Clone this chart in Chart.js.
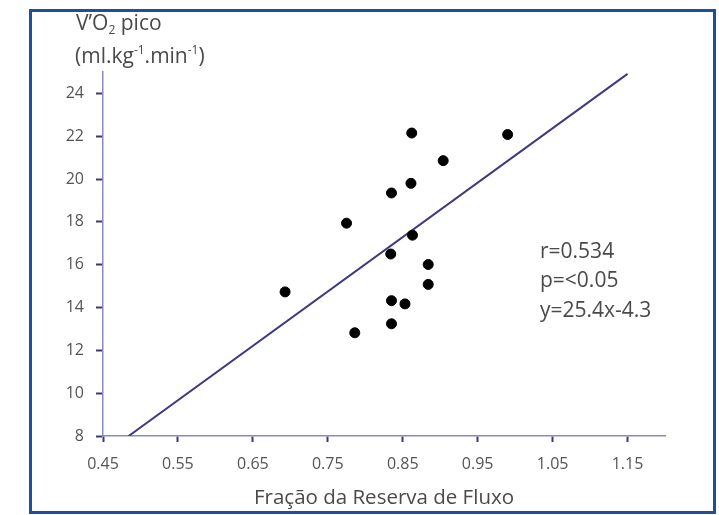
<!DOCTYPE html>
<html>
<head>
<meta charset="utf-8">
<script src="https://cdn.jsdelivr.net/npm/chart.js@4"></script>
<style>
  html, body { margin: 0; padding: 0; background: #fff; }
  #frame {
    position: absolute; left: 29px; top: 9px; width: 687px; height: 505px;
    box-sizing: border-box; border: 3px solid #1f4e9c;
  }
  #chart { position: absolute; left: 0; top: 0; }
</style>
</head>
<body>
<div id="frame"></div>
<canvas id="chart" width="719" height="515"></canvas>
<script>
// Fração da Reserva de Fluxo (x) vs V'O2 pico (y)
const ffrValues = [0.862, 0.990, 0.904, 0.861, 0.835, 0.775, 0.863, 0.834, 0.884, 0.884, 0.693, 0.835, 0.853, 0.835, 0.786];
const vo2Values = [22.15, 22.08, 20.86, 19.8, 19.35, 17.94, 17.38, 16.5, 16.01, 15.08, 14.73, 14.32, 14.17, 13.24, 12.82];

const xTicks = [0.45, 0.55, 0.65, 0.75, 0.85, 0.95, 1.05, 1.15];
const yTicks = [8, 10, 12, 14, 16, 18, 20, 22, 24];

// regressão: y = 25.4x - 4.3
const slope = 25.4;
const intercept = -4.3;
const statLines = ['r=0.534', 'p=<0.05', 'y=25.4x-4.3'];

const FONT = '"Open Sans", "Liberation Sans", sans-serif';
const TEXT = '#4a4a4a';
const AXIS = '#8a88c8';
const TICK = '#3a3878';

const points = ffrValues.map((x, i) => ({ x: x, y: vo2Values[i] }));
const lineStartX = (yTicks[0] - intercept) / slope;
const lineEndX = xTicks[xTicks.length - 1];
const regLine = [
    { x: lineStartX, y: slope * lineStartX + intercept },
    { x: lineEndX, y: slope * lineEndX + intercept }
];

// título do eixo y com subscrito/sobrescrito + estatísticas
const extraText = {
    id: 'extraText',
    afterDraw(chart) {
        const ctx = chart.ctx;
        ctx.save();
        ctx.fillStyle = TEXT;
        ctx.textBaseline = 'middle';
        ctx.textAlign = 'left';

        const parts = (list, x, y) => {
            list.forEach(p => {
                const size = p.s ? 12 : 21;
                ctx.font = size + 'px ' + FONT;
                ctx.fillText(p.t, x, y + (p.s || 0));
                x += ctx.measureText(p.t).width;
            });
        };
        parts([{ t: 'V\u2019O' }, { t: '2', s: 7 }, { t: ' pico' }], 76, 24);
        parts([{ t: '(ml.kg' }, { t: '-1', s: -6 }, { t: '.min' }, { t: '-1', s: -6 }, { t: ')' }], 75, 57);

        ctx.font = '21px ' + FONT;
        statLines.forEach((s, i) => ctx.fillText(s, 540, 252 + i * 29.5));
        ctx.restore();
    }
};

new Chart(document.getElementById('chart'), {
    type: 'scatter',
    data: {
        datasets: [
            {
                data: points,
                backgroundColor: '#000',
                borderColor: '#000',
                pointRadius: 5,
                pointHoverRadius: 5
            },
            {
                type: 'line',
                data: regLine,
                borderColor: '#3d3a80',
                borderWidth: 2,
                pointRadius: 0,
                fill: false
            }
        ]
    },
    options: {
        responsive: false,
        animation: false,
        layout: { padding: { left: 0, right: 54, top: 72, bottom: 0 } },
        plugins: { legend: { display: false }, tooltip: { enabled: false } },
        scales: {
            x: {
                type: 'linear',
                min: 0.45,
                max: 1.2,
                afterBuildTicks: s => { s.ticks = xTicks.map(v => ({ value: v })); },
                afterFit: s => { s.height = 79; },
                border: { color: AXIS, width: 1.5 },
                grid: { drawOnChartArea: false, tickLength: 6, tickColor: TICK, tickWidth: 2 },
                ticks: {
                    color: '#555',
                    font: { family: FONT, size: 16 },
                    padding: 13,
                    maxRotation: 0,
                    callback: v => v.toFixed(2)
                },
                title: {
                    display: true,
                    text: 'Fração da Reserva de Fluxo',
                    color: TEXT,
                    font: { family: FONT, size: 20.5 },
                    padding: { top: 0, bottom: 5 }
                }
            },
            y: {
                min: 8,
                max: 25,
                afterBuildTicks: s => { s.ticks = yTicks.map(v => ({ value: v })); },
                afterFit: s => { s.width = 103; },
                border: { color: AXIS, width: 1.5 },
                grid: { drawOnChartArea: false, tickLength: 7, tickColor: TICK, tickWidth: 2 },
                ticks: {
                    color: '#555',
                    font: { family: FONT, size: 16 },
                    padding: 12
                }
            }
        }
    },
    plugins: [extraText]
});
</script>
</body>
</html>
